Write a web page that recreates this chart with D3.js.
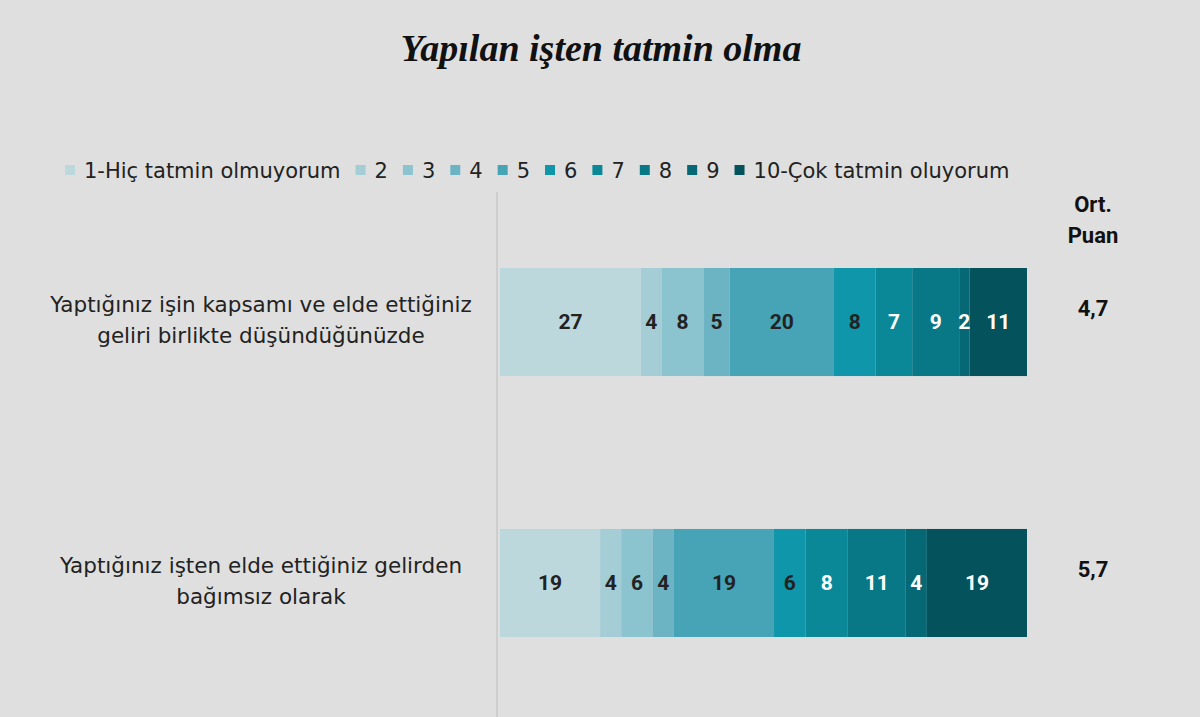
<!DOCTYPE html>
<html>
<head>
<meta charset="utf-8">
<script src="https://cdn.jsdelivr.net/npm/d3@7"></script>
<style>
  body { margin: 0; background: #dfdfdf; }
  svg { display: block; font-family: Roboto, "Noto Sans", sans-serif; }
</style>
</head>
<body>
<svg id="chart" width="1200" height="717"></svg>
<script>
// chart data
const questions = [
  ["Yaptığınız işin kapsamı ve elde ettiğiniz", "geliri birlikte düşündüğünüzde"],
  ["Yaptığınız işten elde ettiğiniz gelirden", "bağımsız olarak"]
];
const levels = ["1-Hiç tatmin olmuyorum", "2", "3", "4", "5", "6", "7", "8", "9", "10-Çok tatmin oluyorum"];
const scope = [27, 4, 8, 5, 20, 8, 7, 9, 2, 11];
const independent = [19, 4, 6, 4, 19, 6, 8, 11, 4, 19];
const averages = ["4,7", "5,7"];
const colors = ["#bdd8dd", "#a4cdd6", "#8bc3cf", "#6cb4c4", "#46a4b6", "#0f96aa", "#0a8898", "#097886", "#066874", "#04525c"];

const svg = d3.select("#chart");
const wide = "'DejaVu Sans', 'Open Sans', sans-serif";

// build rows for the stack: one row per question
const rows = [scope, independent].map((vals, i) => {
  const r = { key: i };
  levels.forEach((l, j) => r[l] = vals[j]);
  return r;
});

// each bar fills the full width, so use expand offset
const series = d3.stack().keys(levels).offset(d3.stackOffsetExpand)(rows);

const x = d3.scaleLinear().domain([0, 1]).range([500, 1027]);
const y = d3.scaleBand().domain([0, 1]).range([268, 637]).paddingInner(0.586).paddingOuter(0);
const color = d3.scaleOrdinal().domain(levels).range(colors);

// title
svg.append("text")
  .attr("x", 601).attr("y", 61)
  .attr("text-anchor", "middle")
  .style("font-family", "'Liberation Serif', 'DejaVu Serif', serif")
  .style("font-style", "italic").style("font-weight", "bold")
  .style("font-size", "38px").style("fill", "#111")
  .text("Yapılan işten tatmin olma");

// vertical axis line
svg.append("line")
  .attr("x1", 497).attr("x2", 497).attr("y1", 192).attr("y2", 717)
  .attr("stroke", "#c9c9c9").attr("stroke-width", 1.5);

// legend, laid out one item after another
const legend = svg.append("g").attr("transform", "translate(0,170)");
let lx = 65;
levels.forEach((l, i) => {
  legend.append("rect")
    .attr("x", lx).attr("y", -5).attr("width", 10).attr("height", 10)
    .attr("fill", color(l));
  const t = legend.append("text")
    .attr("x", lx + 19).attr("y", 7.5)
    .style("font-family", wide)
    .style("font-size", "21px").style("fill", "#222")
    .text(l);
  lx += 19 + t.node().getComputedTextLength() + 15;
});

// stacked segments
const groups = svg.selectAll(".layer").data(series).enter().append("g")
  .attr("class", "layer")
  .attr("fill", d => color(d.key));

groups.selectAll("rect").data(d => d).enter().append("rect")
  .attr("x", d => x(d[0]))
  .attr("y", d => y(d.data.key))
  .attr("width", d => x(d[1]) - x(d[0]))
  .attr("height", y.bandwidth());

// value labels inside the segments
series.forEach((s, j) => {
  svg.selectAll(null).data(s).enter().append("text")
    .attr("x", d => (x(d[0]) + x(d[1])) / 2)
    .attr("y", d => y(d.data.key) + y.bandwidth() / 2)
    .attr("dy", "0.35em")
    .attr("text-anchor", "middle")
    .style("font-size", "21px").style("font-weight", "bold")
    .style("fill", j >= 6 ? "#ffffff" : "#222")
    .text(d => d.data[s.key]);
});

// question labels on the left
questions.forEach((lines, i) => {
  const cy = y(i) + y.bandwidth() / 2;
  lines.forEach((line, k) => {
    svg.append("text")
      .attr("x", 261).attr("y", cy - 10 + k * 31)
      .attr("text-anchor", "middle")
      .style("font-family", wide)
      .style("font-size", "21.5px").style("fill", "#222")
      .text(line);
  });
});

// average score column
svg.append("text")
  .attr("x", 1093).attr("y", 212).attr("text-anchor", "middle")
  .style("font-size", "22px").style("font-weight", "bold").style("fill", "#111")
  .text("Ort.");
svg.append("text")
  .attr("x", 1093).attr("y", 243).attr("text-anchor", "middle")
  .style("font-size", "22px").style("font-weight", "bold").style("fill", "#111")
  .text("Puan");
averages.forEach((a, i) => {
  svg.append("text")
    .attr("x", 1093).attr("y", y(i) + y.bandwidth() / 2 - 14)
    .attr("dy", "0.35em").attr("text-anchor", "middle")
    .style("font-size", "22px").style("font-weight", "bold").style("fill", "#111")
    .text(a);
});
</script>
</body>
</html>
